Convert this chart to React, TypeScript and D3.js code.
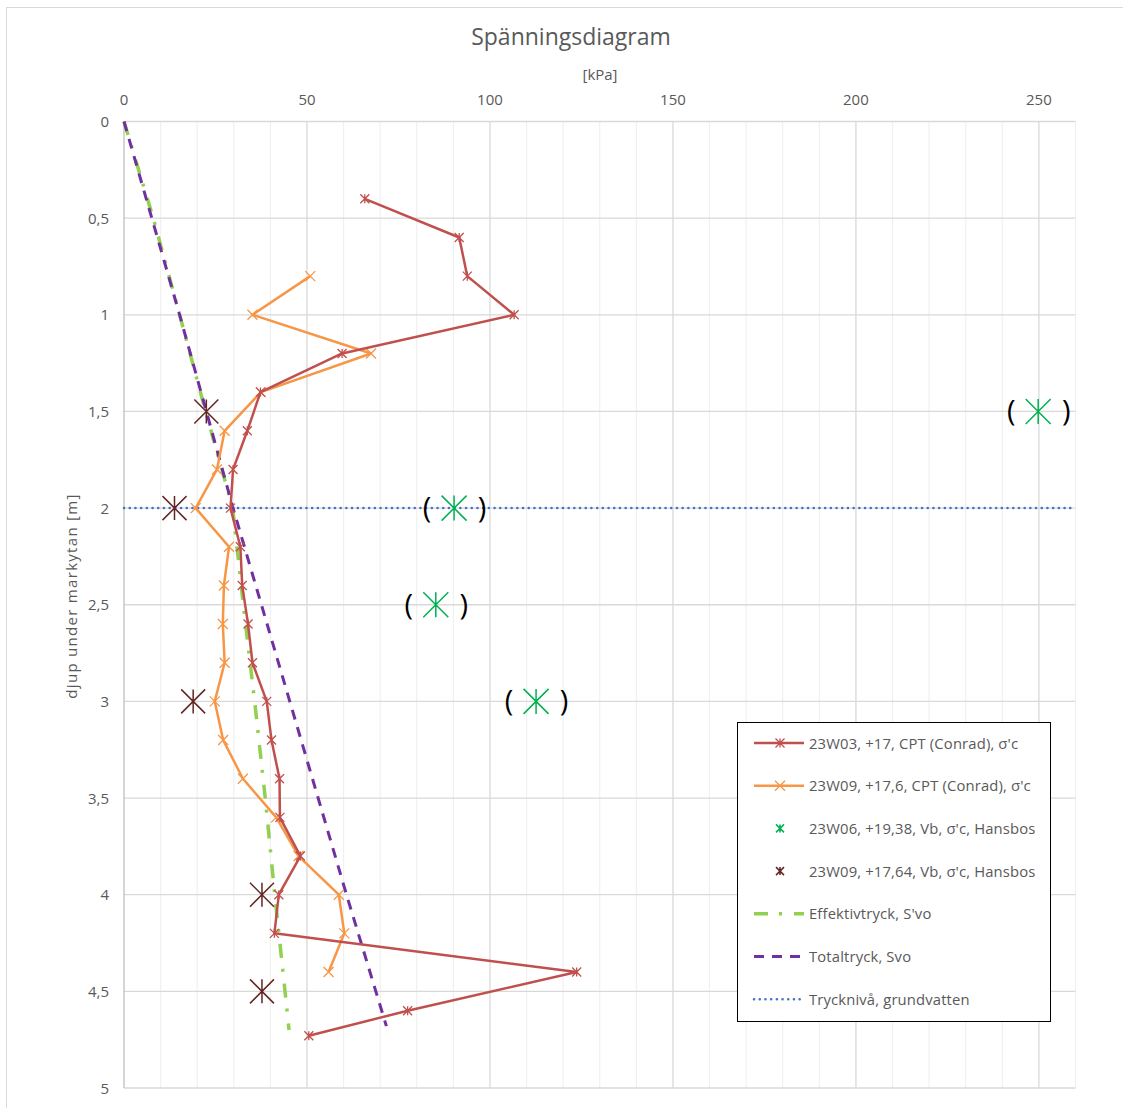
import React, { useEffect, useRef } from 'react';
import * as d3 from 'd3';

// 23W03 CPT (Conrad), sigma'c
const depthW03 = [0.4, 0.6, 0.8, 1.0, 1.2, 1.4, 1.6, 1.8, 2.0, 2.2, 2.4, 2.6, 2.8, 3.0, 3.2, 3.4, 3.6, 3.8, 4.0, 4.2, 4.4, 4.6, 4.73];
const sigmaW03 = [65.8, 91.6, 93.8, 106.6, 59.6, 37.3, 33.7, 29.8, 29.1, 31.8, 32.3, 33.9, 35.1, 39.0, 40.3, 42.5, 42.6, 48.2, 42.3, 41.1, 123.7, 77.5, 50.5];

// 23W09 CPT (Conrad), sigma'c
const depthW09 = [0.8, 1.0, 1.2, 1.4, 1.6, 1.8, 2.0, 2.2, 2.4, 2.6, 2.8, 3.0, 3.2, 3.4, 3.6, 3.8, 4.0, 4.2, 4.4];
const sigmaW09 = [50.9, 35.1, 67.5, 37.4, 27.5, 25.4, 19.6, 28.7, 27.3, 27.0, 27.5, 24.8, 27.1, 32.5, 41.6, 47.7, 58.7, 60.2, 55.9];

// 23W06 Vb, Hansbo (shown in brackets)
const depthW06vb = [1.5, 2.0, 2.5, 3.0];
const sigmaW06vb = [249.8, 90.2, 85.2, 112.6];

// 23W09 Vb, Hansbo
const depthW09vb = [1.5, 2.0, 3.0, 4.0, 4.5];
const sigmaW09vb = [22.5, 13.8, 18.9, 37.7, 37.7];

// effective and total vertical stress
const depthEff = [0, 0.5, 1.0, 1.5, 2.0, 2.5, 3.0, 3.5, 4.0, 4.5, 4.7];
const sigmaEff = [0, 8.0, 15.2, 22.3, 29.7, 32.6, 35.7, 38.6, 41.2, 44.0, 45.1];
const depthTot = [0, 1.0, 2.0, 3.0, 4.0, 4.68];
const sigmaTot = [0, 15.2, 29.8, 45.3, 60.8, 71.7];

const waterDepth = 2;

const xTicks = [0, 50, 100, 150, 200, 250];
const yTicks = [0, 0.5, 1, 1.5, 2, 2.5, 3, 3.5, 4, 4.5, 5];

const legendLabels = [
  "23W03, +17, CPT (Conrad), σ'c",
  "23W09, +17,6, CPT (Conrad), σ'c",
  "23W06, +19,38, Vb, σ'c, Hansbos",
  "23W09, +17,64, Vb, σ'c, Hansbos",
  "Effektivtryck, S'vo",
  'Totaltryck, Svo',
  'Trycknivå, grundvatten',
];

const FONT = "'Open Sans', 'Noto Sans', sans-serif";
const TXT = '#595959';

const App = () => {
  const ref = useRef<SVGSVGElement>(null);

  useEffect(() => {
    const svg = d3.select(ref.current);
    svg.selectAll('*').remove();

    const left = 124, right = 1075.5, top = 121.5, bottom = 1088;
    const x = d3.scaleLinear().domain([0, 260]).range([left, right]);
    const y = d3.scaleLinear().domain([0, 5]).range([top, bottom]);

    // outer chart frame
    svg.append('rect')
      .attr('x', 6.5).attr('y', 7.5).attr('width', 1130).attr('height', 1110)
      .attr('fill', '#fff').attr('stroke', '#d9d9d9').attr('stroke-width', 1);

    // gridlines
    const g = svg.append('g');
    d3.range(10, 260, 10).filter(v => v % 50 !== 0).forEach(v => {
      g.append('line').attr('x1', x(v)).attr('x2', x(v)).attr('y1', top).attr('y2', bottom)
        .attr('stroke', '#f0f0f0').attr('stroke-width', 1.2);
    });
    xTicks.slice(1).forEach(v => {
      g.append('line').attr('x1', x(v)).attr('x2', x(v)).attr('y1', top).attr('y2', bottom)
        .attr('stroke', '#d9d9d9').attr('stroke-width', 1.3);
    });
    g.append('line').attr('x1', right).attr('x2', right).attr('y1', top).attr('y2', bottom)
      .attr('stroke', '#f0f0f0').attr('stroke-width', 1.2);
    yTicks.forEach(v => {
      g.append('line').attr('x1', left).attr('x2', right).attr('y1', y(v)).attr('y2', y(v))
        .attr('stroke', '#d9d9d9').attr('stroke-width', 1.3);
    });
    g.append('line').attr('x1', left).attr('x2', left).attr('y1', top).attr('y2', bottom)
      .attr('stroke', '#bfbfbf').attr('stroke-width', 1.3);

    // tick labels
    svg.append('g').selectAll('text').data(xTicks).enter().append('text')
      .attr('x', d => x(d)).attr('y', 104.5).attr('text-anchor', 'middle')
      .attr('font-family', FONT).attr('font-size', 15).attr('fill', TXT)
      .text(d => d);
    svg.append('g').selectAll('text').data(yTicks).enter().append('text')
      .attr('x', 109).attr('y', d => y(d) + 5.5).attr('text-anchor', 'end')
      .attr('font-family', FONT).attr('font-size', 15).attr('fill', TXT)
      .text(d => String(d).replace('.', ','));

    // titles
    svg.append('text').attr('x', 571).attr('y', 45).attr('text-anchor', 'middle')
      .attr('font-family', FONT).attr('font-size', 23).attr('fill', TXT).text('Spänningsdiagram');
    svg.append('text').attr('x', 600).attr('y', 80).attr('text-anchor', 'middle')
      .attr('font-family', FONT).attr('font-size', 15).attr('fill', TXT).text('[kPa]');
    svg.append('text').attr('transform', `translate(77,${596}) rotate(-90)`).attr('text-anchor', 'middle')
      .attr('font-family', FONT).attr('font-size', 15).attr('letter-spacing', 1.3).attr('fill', TXT)
      .text('djup under markytan [m]');

    const star = (sel: any, cx: number, cy: number, s: number, color: string, w: number, vertical = true) => {
      const h = s / 2;
      const p = `M${cx - h},${cy - h}L${cx + h},${cy + h}M${cx - h},${cy + h}L${cx + h},${cy - h}` +
        (vertical ? `M${cx},${cy - h}L${cx},${cy + h}` : '');
      sel.append('path').attr('d', p).attr('stroke', color).attr('stroke-width', w).attr('fill', 'none');
    };

    const line = d3.line<[number, number]>().x(d => x(d[0])).y(d => y(d[1]));
    const plot = svg.append('g');

    // water level
    plot.append('line').attr('x1', left).attr('x2', right).attr('y1', y(waterDepth)).attr('y2', y(waterDepth))
      .attr('stroke', '#4472c4').attr('stroke-width', 2.5).attr('stroke-linecap', 'round')
      .attr('stroke-dasharray', '0.1 5.6');

    // effective stress
    plot.append('path').attr('d', line(sigmaEff.map((v, i) => [v, depthEff[i]])))
      .attr('fill', 'none').attr('stroke', '#92d050').attr('stroke-width', 3.5)
      .attr('stroke-dasharray', '14 11 3 12');
    // total stress
    plot.append('path').attr('d', line(sigmaTot.map((v, i) => [v, depthTot[i]])))
      .attr('fill', 'none').attr('stroke', '#7030a0').attr('stroke-width', 3)
      .attr('stroke-dasharray', '10 8');

    // 23W09 CPT
    plot.append('path').attr('d', line(sigmaW09.map((v, i) => [v, depthW09[i]])))
      .attr('fill', 'none').attr('stroke', '#f79646').attr('stroke-width', 2.5).attr('stroke-linejoin', 'round');
    sigmaW09.forEach((v, i) => star(plot, x(v), y(depthW09[i]), 10, '#f79646', 1.3, false));

    // 23W03 CPT
    plot.append('path').attr('d', line(sigmaW03.map((v, i) => [v, depthW03[i]])))
      .attr('fill', 'none').attr('stroke', '#c0504d').attr('stroke-width', 2.5).attr('stroke-linejoin', 'round');
    sigmaW03.forEach((v, i) => star(plot, x(v), y(depthW03[i]), 9, '#c0504d', 1.3));

    // Vb Hansbo points
    sigmaW09vb.forEach((v, i) => star(plot, x(v), y(depthW09vb[i]), 24, '#632523', 1.5));
    sigmaW06vb.forEach((v, i) => {
      star(plot, x(v), y(depthW06vb[i]), 25, '#00b050', 1.5);
      plot.append('text').attr('x', x(v) - 27).attr('y', y(depthW06vb[i]) + 10).attr('text-anchor', 'middle')
        .attr('font-family', FONT).attr('font-size', 29).attr('fill', '#000').text('(');
      plot.append('text').attr('x', x(v) + 28).attr('y', y(depthW06vb[i]) + 10).attr('text-anchor', 'middle')
        .attr('font-family', FONT).attr('font-size', 29).attr('fill', '#000').text(')');
    });

    // legend
    const lg = svg.append('g');
    lg.append('rect').attr('x', 737.5).attr('y', 722.5).attr('width', 313).attr('height', 299)
      .attr('fill', '#fff').attr('stroke', '#000').attr('stroke-width', 1);
    const rowY = (i: number) => 743 + i * 42.7;
    legendLabels.forEach((t, i) => {
      lg.append('text').attr('x', 809).attr('y', rowY(i) + 5.5)
        .attr('font-family', FONT).attr('font-size', 14.8).attr('letter-spacing', 0.15).attr('fill', TXT).text(t);
    });
    const sx1 = 754, sx2 = 804, sc = 780;
    lg.append('line').attr('x1', sx1).attr('x2', sx2).attr('y1', rowY(0)).attr('y2', rowY(0))
      .attr('stroke', '#c0504d').attr('stroke-width', 2.5);
    star(lg, sc, rowY(0), 9, '#c0504d', 1.3);
    lg.append('line').attr('x1', sx1).attr('x2', sx2).attr('y1', rowY(1)).attr('y2', rowY(1))
      .attr('stroke', '#f79646').attr('stroke-width', 2.5);
    star(lg, sc, rowY(1), 10, '#f79646', 1.3, false);
    star(lg, sc, rowY(2), 8, '#00b050', 1.5);
    star(lg, sc, rowY(3), 8, '#632523', 1.5);
    lg.append('line').attr('x1', sx1).attr('x2', sx2).attr('y1', rowY(4)).attr('y2', rowY(4))
      .attr('stroke', '#92d050').attr('stroke-width', 3.5).attr('stroke-dasharray', '14 11 3 12');
    lg.append('line').attr('x1', sx1).attr('x2', sx2).attr('y1', rowY(5)).attr('y2', rowY(5))
      .attr('stroke', '#7030a0').attr('stroke-width', 3).attr('stroke-dasharray', '10 8');
    lg.append('line').attr('x1', sx1).attr('x2', sx2).attr('y1', rowY(6)).attr('y2', rowY(6))
      .attr('stroke', '#4472c4').attr('stroke-width', 2.5).attr('stroke-linecap', 'round')
      .attr('stroke-dasharray', '0.1 5.6');
  }, []);

  return (
    <div style={{ position: 'absolute', left: 0, top: 0 }}>
      <svg ref={ref} width={1123} height={1108} style={{ display: 'block' }}></svg>
    </div>
  );
};

export default App;
